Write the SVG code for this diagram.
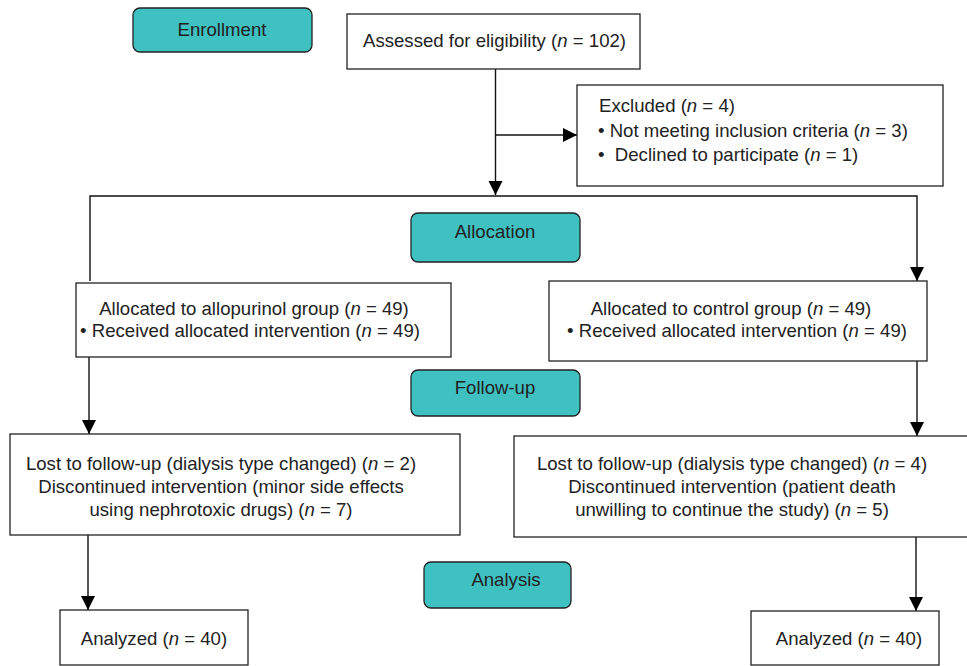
<svg xmlns="http://www.w3.org/2000/svg" width="967" height="666" viewBox="0 0 967 666">
<style>
text{font-family:"Liberation Sans",Arial,sans-serif;font-size:18.6px;fill:#222}
.box{fill:#fff;stroke:#222;stroke-width:1.3}
.stage{fill:#3FC0C1;stroke:#222;stroke-width:1.3}
.c{text-anchor:middle}
.ln{fill:none;stroke:#111;stroke-width:1.4}
</style>
<defs>
<marker id="ah" markerUnits="userSpaceOnUse" markerWidth="14" markerHeight="16" refX="14" refY="7" orient="auto">
<path d="M0,0 L14,7 L0,14 Z" fill="#000"/>
</marker>
</defs>
<rect width="967" height="666" fill="#fff"/>
<g id="connectors">
<path class="ln" d="M495.5,69 V195" marker-end="url(#ah)"/>
<path class="ln" d="M495.5,135 H577" marker-end="url(#ah)"/>
<path class="ln" d="M90,281 V196 H917 V281" marker-end="url(#ah)"/>
<path class="ln" d="M89,357 V434" marker-end="url(#ah)"/>
<path class="ln" d="M917,361 V436" marker-end="url(#ah)"/>
<path class="ln" d="M88,535 V610" marker-end="url(#ah)"/>
<path class="ln" d="M916,537 V611" marker-end="url(#ah)"/>
</g>
<g id="enrollment">
<rect class="stage" x="133" y="8" width="179" height="44" rx="7"/>
<text class="c" x="222" y="36">Enrollment</text>
</g>
<g id="assessed">
<rect class="box" x="347" y="14" width="293" height="55"/>
<text x="363" y="47">Assessed for eligibility (<tspan font-style="italic">n</tspan> = 102)</text>
</g>
<g id="excluded">
<rect class="box" x="577" y="85" width="366" height="101"/>
<text x="599" y="112">Excluded (<tspan font-style="italic">n</tspan> = 4)</text>
<text x="598" y="137">• Not meeting inclusion criteria (<tspan font-style="italic">n</tspan> = 3)</text>
<text x="598" y="161">•&#160; Declined to participate (<tspan font-style="italic">n</tspan> = 1)</text>
</g>
<g id="allocation">
<rect class="stage" x="411" y="213" width="169" height="49" rx="7"/>
<text class="c" x="495" y="238">Allocation</text>
</g>
<g id="alloc-left">
<rect class="box" x="76" y="283" width="375" height="74"/>
<text class="c" x="254" y="315">Allocated to allopurinol group (<tspan font-style="italic">n</tspan> = 49)</text>
<text class="c" x="250" y="337">• Received allocated intervention (<tspan font-style="italic">n</tspan> = 49)</text>
</g>
<g id="alloc-right">
<rect class="box" x="549" y="281" width="378" height="80"/>
<text class="c" x="731" y="315">Allocated to control group (<tspan font-style="italic">n</tspan> = 49)</text>
<text class="c" x="737" y="337">• Received allocated intervention (<tspan font-style="italic">n</tspan> = 49)</text>
</g>
<g id="followup">
<rect class="stage" x="411" y="370" width="169" height="46" rx="7"/>
<text class="c" x="495" y="394">Follow-up</text>
</g>
<g id="lost-left">
<rect class="box" x="10" y="434" width="450" height="101"/>
<text class="c" x="221" y="470">Lost to follow-up (dialysis type changed) (<tspan font-style="italic">n</tspan> = 2)</text>
<text class="c" x="221" y="493">Discontinued intervention (minor side effects</text>
<text class="c" x="221" y="516">using nephrotoxic drugs) (<tspan font-style="italic">n</tspan> = 7)</text>
</g>
<g id="lost-right">
<rect class="box" x="514" y="436" width="460" height="101"/>
<text class="c" x="732" y="470">Lost to follow-up (dialysis type changed) (<tspan font-style="italic">n</tspan> = 4)</text>
<text class="c" x="732" y="493">Discontinued intervention (patient death</text>
<text class="c" x="732" y="516">unwilling to continue the study) (<tspan font-style="italic">n</tspan> = 5)</text>
</g>
<g id="analysis">
<rect class="stage" x="424" y="562" width="147" height="46" rx="7"/>
<text class="c" x="506" y="586">Analysis</text>
</g>
<g id="analyzed-left">
<rect class="box" x="60" y="610" width="188" height="55"/>
<text class="c" x="154" y="645">Analyzed (<tspan font-style="italic">n</tspan> = 40)</text>
</g>
<g id="analyzed-right">
<rect class="box" x="751" y="611" width="188" height="54"/>
<text class="c" x="849" y="645">Analyzed (<tspan font-style="italic">n</tspan> = 40)</text>
</g>
</svg>
